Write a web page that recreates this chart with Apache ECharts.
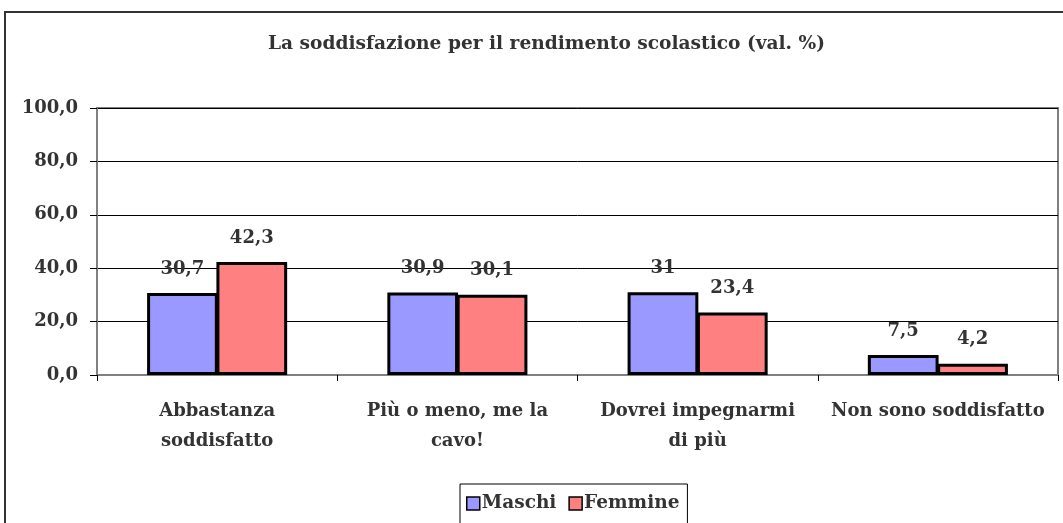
<!DOCTYPE html>
<html><head><meta charset="utf-8">
<script src="https://cdn.jsdelivr.net/npm/echarts@6/dist/echarts.min.js"></script>
<style>html,body{margin:0;padding:0;background:#fff}#c{width:1063px;height:523px}</style>
</head><body><div id="c"></div>
<script>
const categories = ["Abbastanza\nsoddisfatto", "Più o meno, me la\ncavo!", "Dovrei impegnarmi\ndi più", "Non sono soddisfatto"];
const maschi = [30.7, 30.9, 31, 7.5];
const femmine = [42.3, 30.1, 23.4, 4.2];
const yTicks = [0, 20, 40, 60, 80, 100];

const FONT = "DejaVu Serif";
const TXT = "#333333";
const chart = echarts.init(document.getElementById('c'));
const lbl = {
  show: true, position: 'top', distance: 15,
  fontFamily: FONT, fontWeight: 'bold', fontSize: 18, color: TXT,
  formatter: p => String(p.value).replace('.', ',')
};
chart.setOption({
  animation: false,
  graphic: [{
    type: 'rect', shape: {x: 5, y: 12, width: 1080, height: 540},
    style: {fill: 'none', stroke: '#333', lineWidth: 2}, z: 0
  }],
  title: {
    text: 'La soddisfazione per il rendimento scolastico (val. %)',
    left: 263, top: 30,
    textStyle: {fontFamily: FONT, fontWeight: 'bold', fontSize: 18.6, color: TXT}
  },
  legend: {
    bottom: -2, left: 460,
    itemWidth: 13, itemHeight: 13, itemGap: 12,
    borderColor: '#000', borderWidth: 1, padding: [10, 8, 12, 6],
    icon: 'rect',
    itemStyle: {borderColor: '#000', borderWidth: 1.5},
    textStyle: {fontFamily: FONT, fontWeight: 'bold', fontSize: 18.5, color: TXT, padding: [0, 0, 0, -3]}
  },
  grid: {left: 97, right: 5, top: 108, bottom: 148, show: true, borderColor: '#808080', borderWidth: 2},
  xAxis: {
    type: 'category', data: categories,
    axisLine: {lineStyle: {color: '#808080', width: 2}},
    axisTick: {show: true, length: 6, lineStyle: {color: '#000'}},
    axisLabel: {fontFamily: FONT, fontWeight: 'bold', fontSize: 18, color: TXT, margin: 21, lineHeight: 30, interval: 0}
  },
  yAxis: {
    type: 'value', min: yTicks[0], max: yTicks[yTicks.length - 1], interval: 20,
    axisLine: {show: true, lineStyle: {color: '#808080', width: 2}},
    axisTick: {show: true, length: 7, lineStyle: {color: '#000'}},
    splitLine: {lineStyle: {color: '#000', width: 1}},
    axisLabel: {fontFamily: FONT, fontWeight: 'bold', fontSize: 18, color: TXT, margin: 19,
      formatter: v => v.toFixed(1).replace('.', ',')}
  },
  series: [
    {name: 'Maschi', type: 'bar', data: maschi, barGap: '-2%', barCategoryGap: '41.7%',
      itemStyle: {color: '#9999FF', borderColor: '#000', borderWidth: 3}, label: lbl},
    {name: 'Femmine', type: 'bar', data: femmine,
      itemStyle: {color: '#FF8080', borderColor: '#000', borderWidth: 3}, label: lbl}
  ]
});
</script></body></html>
